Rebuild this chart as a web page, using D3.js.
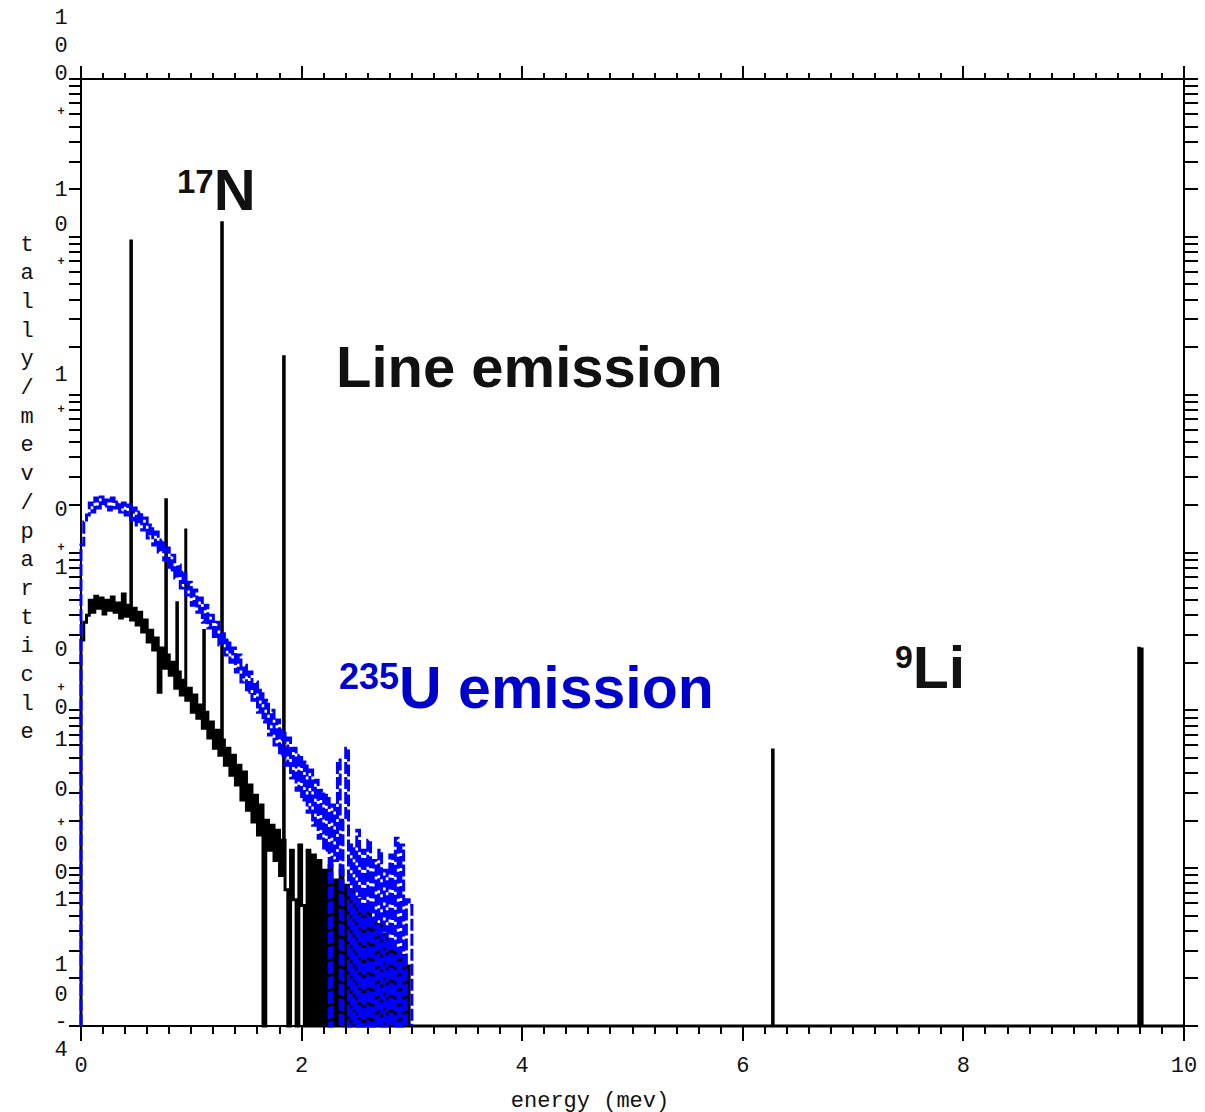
<!DOCTYPE html>
<html><head><meta charset="utf-8">
<script src="https://cdn.jsdelivr.net/npm/d3@7"></script>
<style>body{margin:0;background:#fff} svg{display:block}</style>
</head><body><svg id="c" width="1205" height="1112"></svg>
<script>
// ---------------- DATA ----------------
const binWidth = 0.025;   // MeV
// Line emission continuum (tally/mev/particle), bins starting at 0 MeV
const blackContinuum = [
 0.0279,0.0362,0.0401,0.0499,0.0419,0.0529,0.0444,0.0514,0.0407,0.0499,
 0.0431,0.0522,0.0419,0.0478,0.0384,0.0545,0.0395,0.0464,0.0373,0.0444,
 0.0347,0.0419,0.0313,0.0373,0.0271,0.0322,0.0241,0.0287,0.0130,0.0248,
 0.0185,0.0224,0.0167,0.0202,0.0138,0.0175,0.0125,0.0155,0.0116,0.0138,
 0.00974,0.0125,0.00892,0.0108,0.00771,0.00974,0.00667,0.00842,0.00576,0.00749,
 0.00520,0.00648,0.00449,0.00576,0.00388,0.00520,0.00336,0.00449,0.00270,0.00406,
 0.00233,0.00336,0.00196,0.00290,0.00162,0.00251,0,0.00201,0.00130,0.00187,
 0.00112,0.00174,0.00090,0.00150,0.00073,0,0.00130,0.00063,0,0.00140,
 0.00058,0,0.00130,0,0.00121,0,0.00112,0,0.00097,0,
 0.00104,0,0.00084,0,0.00097,0,0.00078,0,0.00073,0,
 0.00063,0,0.00058,0,0.00054,0,0.00047,0,0.00044,0,
 0.00038,0,0.00035,0,0.00030,0,0.00028,0,0.00024,0
];
// 235U emission continuum
const blueContinuum = [
 0.1114,0.1558,0.1726,0.2056,0.1803,0.2212,0.1911,0.2245,0.1968,0.2148,
 0.1856,0.2212,0.1911,0.2087,0.1803,0.2056,0.1726,0.1997,0.1604,0.1911,
 0.1491,0.1803,0.1387,0.1652,0.1234,0.1491,0.1114,0.1347,0.1006,0.1199,
 0.0895,0.1066,0.0774,0.0962,0.0689,0.0832,0.0595,0.0751,0.0537,0.0649,
 0.0464,0.0578,0.0419,0.0514,0.0362,0.0464,0.0332,0.0401,0.0287,0.0362,
 0.0259,0.0313,0.0224,0.0279,0.0202,0.0248,0.0175,0.0224,0.0151,0.0193,
 0.0130,0.0175,0.0116,0.0151,0.00974,0.0134,0.00842,0.0116,0.00697,0.0100,
 0.00602,0.00867,0.00520,0.00749,0.00449,0.00667,0.00372,0.00576,0.00312,0.00520,
 0.00270,0.00470,0.00226,0.00418,0.00187,0.00361,0.00155,0.00312,0.00130,0.00290,
 0,0.00251,0.00112,0.00484,0,0.00201,0.00576,0,0.00140,0,
 0.00174,0,0.00130,0,0.00150,0,0.00112,0,0.00130,0,
 0.00097,0,0.00121,0,0.00155,0,0.00140,0,0.00063,0.00058
];
// discrete lines (17N, 9Li, ...)
const lineEnergies = [0.452, 0.769, 0.869, 0.950, 1.113, 1.276, 1.837, 6.27, 9.59, 9.615];
const lineValues   = [9.4,   0.216, 0.048, 0.142, 0.032, 12.3,  1.74,  0.0056, 0.0247, 0.0245];

const xMajorTicks = [0, 2, 4, 6, 8, 10];
const xTickLabels = ["0", "2", "4", "6", "8", "10"];
const xMinorStep = 0.2;
const yDomain = [1e-4, 100];
const xTitle = "energy (mev)";
const yTitle = "tally/mev/particle";

// ---------------- LAYOUT ----------------
const svg = d3.select("#c");
const L = 81, R = 1184, T = 79, B = 1026;
const x = d3.scaleLinear().domain([0, 10]).range([L, R]);
const y = d3.scaleLog().domain(yDomain).range([B, T]);
const yv = v => y(Math.max(v, yDomain[0]));
const mono = "'Liberation Mono', 'DejaVu Sans Mono', monospace";
const sans = "'Liberation Sans', Arial, sans-serif";

svg.append("rect").attr("width", 1205).attr("height", 1112).attr("fill", "#fff");

// ---- axes frame ----
const ax = svg.append("g").attr("stroke", "#000").attr("stroke-width", 2).attr("fill", "none");
ax.append("rect").attr("x", L).attr("y", T).attr("width", R - L).attr("height", B - T);

const xMinor = d3.range(0, 10 + 1e-9, xMinorStep);
xMinor.forEach(e => {
  const isMaj = xMajorTicks.some(m => Math.abs(m - e) < 1e-6);
  const px = Math.round(x(e));
  ax.append("line").attr("x1", px).attr("x2", px).attr("y1", T).attr("y2", T - (isMaj ? 13 : 6));
  ax.append("line").attr("x1", px).attr("x2", px).attr("y1", B).attr("y2", B + (isMaj ? 15 : 8));
});
y.ticks().forEach(v => {
  const py = Math.round(y(v));
  ax.append("line").attr("x1", L).attr("x2", L - 12).attr("y1", py).attr("y2", py);
  ax.append("line").attr("x1", R).attr("x2", R + 14).attr("y1", py).attr("y2", py);
});

svg.append("g").selectAll("text").data(xMajorTicks).join("text")
  .attr("x", d => x(d)).attr("y", 1066)
  .attr("text-anchor", "middle").attr("dominant-baseline", "central")
  .attr("font-family", mono).attr("font-size", 22).attr("fill", "#111")
  .text((d, i) => xTickLabels[i]);

svg.append("text").attr("x", 590).attr("y", 1101)
  .attr("text-anchor", "middle").attr("dominant-baseline", "central")
  .attr("font-family", mono).attr("font-size", 22).attr("fill", "#111")
  .text(xTitle);

// y tick labels: characters stacked vertically, as in the original plotter output
const yGlyphs = [["1",18],["0",46],["0",74],["+",112],["1",190],["0",225],["+",262],["1",375],["+",410],
  ["0",510],["+",548],["1",568],["0",650],["+",688],["0",708],["1",740],["0",790],["+",823],["0",845],
  ["0",873],["1",900],["1",965],["0",995],["-",1022],["4",1050]];
svg.append("g").selectAll("text").data(yGlyphs).join("text")
  .attr("x", 61).attr("y", d => d[1])
  .attr("text-anchor", "middle").attr("dominant-baseline", "central")
  .attr("font-family", mono)
  .attr("font-size", d => d[0] === "+" ? 12 : 22)
  .attr("font-weight", d => d[0] === "+" ? "bold" : "normal")
  .attr("fill", "#111")
  .text(d => d[0]);

svg.append("g").selectAll("text").data(yTitle.split("")).join("text")
  .attr("x", 27).attr("y", (d, i) => 245 + i * 28.7)
  .attr("text-anchor", "middle").attr("dominant-baseline", "central")
  .attr("font-family", mono).attr("font-size", 22).attr("fill", "#111")
  .text(d => d);

// ---- histograms ----
const spikeWidth = 0.005;
function buildBins(cont, extend, sE, sV) {
  let bins = cont.map((v, i) => ({ e0: i * binWidth, e1: (i + 1) * binWidth, v }));
  if (extend) bins.push({ e0: cont.length * binWidth, e1: 10, v: 0 });
  sE.forEach((s, k) => {
    const idx = bins.findIndex(b => s >= b.e0 && s < b.e1);
    if (idx < 0) return;
    const b = bins[idx];
    const parts = [];
    if (s > b.e0) parts.push({ e0: b.e0, e1: s, v: b.v });
    const se = Math.min(s + spikeWidth, b.e1);
    parts.push({ e0: s, e1: se, v: sV[k] });
    if (se < b.e1) parts.push({ e0: se, e1: b.e1, v: b.v });
    bins.splice(idx, 1, ...parts);
  });
  return bins;
}
function stepPoints(bins) {
  const pts = [[bins[0].e0, 0]];
  bins.forEach(b => { pts.push([b.e0, b.v]); pts.push([b.e1, b.v]); });
  pts.push([bins[bins.length - 1].e1, 0]);
  return pts;
}
const line = d3.line().x(d => x(d[0])).y(d => yv(d[1]));

const blackBins = buildBins(blackContinuum, true, lineEnergies, lineValues);
svg.append("path").attr("d", line(stepPoints(blackBins)))
  .attr("fill", "none").attr("stroke", "#000").attr("stroke-width", 3);

const blueBins = buildBins(blueContinuum, false, [], []);
svg.append("path").attr("d", line(stepPoints(blueBins)))
  .attr("fill", "none").attr("stroke", "#0000ff").attr("stroke-width", 3)
  .attr("stroke-dasharray", "12,3");

// ---- annotations ----
function label(px, py, sup, main, color, supSize, mainSize, supDy) {
  const t = svg.append("text").attr("x", px).attr("y", py)
    .attr("font-family", sans).attr("font-weight", "bold").attr("fill", color);
  if (sup) t.append("tspan").attr("font-size", supSize).attr("dy", supDy).text(sup);
  t.append("tspan").attr("font-size", mainSize).attr("dy", sup ? -supDy : 0).text(main);
}
label(177, 210, "17", "N", "#111", 33, 58, -17);
label(336, 387, null, "Line emission", "#111", 0, 58, 0);
label(339, 708, "235", "U emission", "#0000cc", 36, 59, -19);
label(895, 688, "9", "Li", "#111", 32, 59, -20);
</script>
</body></html>
